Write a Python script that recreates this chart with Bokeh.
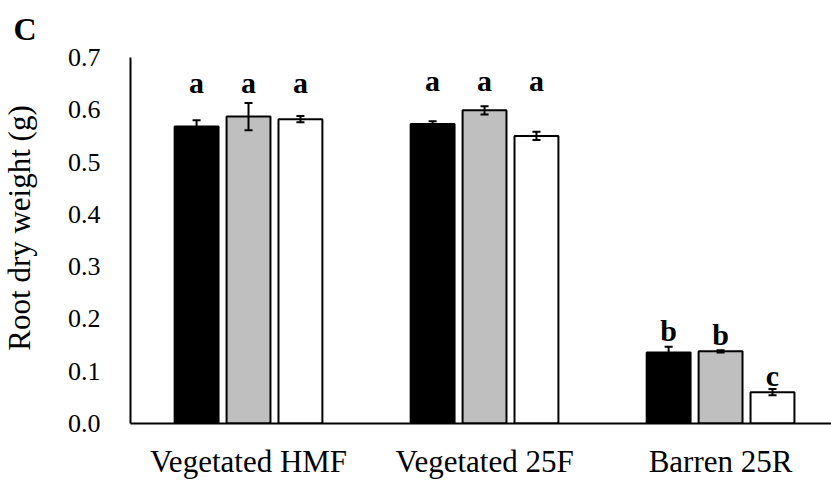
import math
from bokeh.plotting import figure
from bokeh.models import Range1d, FixedTicker, Label, Title, ColumnDataSource
from bokeh.embed import file_html
from bokeh.resources import INLINE

# Sites along the x axis
sites = ["Vegetated HMF", "Vegetated 25F", "Barren 25R"]

# Root dry weight (g), mean and standard error for the three treatments
treat1_mean = [0.568, 0.573, 0.136]
treat1_err = [0.012, 0.005, 0.011]
treat2_mean = [0.587, 0.599, 0.138]
treat2_err = [0.026, 0.008, 0.002]
treat3_mean = [0.582, 0.550, 0.060]
treat3_err = [0.006, 0.008, 0.006]

# Significance letters per site, per treatment
letters1 = ["a", "a", "b"]
letters2 = ["a", "a", "b"]
letters3 = ["a", "a", "c"]

y_ticks = [0.0, 0.1, 0.2, 0.3, 0.4, 0.5, 0.6, 0.7]

SERIF = "Liberation Serif"

p = figure(width=831, height=481, output_backend="svg", toolbar_location=None,
           x_range=Range1d(0, 2.97), y_range=Range1d(0, 0.7),
           min_border_left=130, min_border_right=0,
           min_border_top=57, min_border_bottom=56)
p.outline_line_color = None
p.xgrid.visible = False
p.ygrid.visible = False
p.background_fill_color = "white"
p.border_fill_color = "white"

bar_w = 0.186
offsets = [-0.22, 0.0, 0.22]
fills = ["black", "#bfbfbf", "white"]
means = [treat1_mean, treat2_mean, treat3_mean]
errs = [treat1_err, treat2_err, treat3_err]
letters = [letters1, letters2, letters3]

centers = [i + 0.5 for i in range(len(sites))]
cap = 0.017

for k in range(3):
    xs = [c + offsets[k] for c in centers]
    src = ColumnDataSource(dict(x=xs, top=means[k],
                                lo=[m - e for m, e in zip(means[k], errs[k])],
                                hi=[m + e for m, e in zip(means[k], errs[k])],
                                x0=[x - cap for x in xs], x1=[x + cap for x in xs]))
    p.vbar(x="x", top="top", bottom=0, width=bar_w, source=src,
           fill_color=fills[k], line_color="black", line_width=2)
    p.segment(x0="x", y0="lo", x1="x", y1="hi", source=src, line_color="black", line_width=2)
    p.segment(x0="x0", y0="hi", x1="x1", y1="hi", source=src, line_color="black", line_width=2)
    p.segment(x0="x0", y0="lo", x1="x1", y1="lo", source=src, line_color="black", line_width=2)

# Letter baselines: one shared row over each vegetated site,
# just above the error bar for the barren site
row_y = {0: 0.629, 1: 0.633}
letter_pad = {"b": 0.007, "c": 0.003}
for k in range(3):
    for i in range(len(sites)):
        if i in row_y:
            ly = row_y[i]
        else:
            ly = means[k][i] + errs[k][i] + letter_pad.get(letters[k][i], 0.007)
        p.add_layout(Label(x=centers[i] + offsets[k], y=ly, y_offset=12, text=letters[k][i],
                           text_font=SERIF, text_font_style="bold", text_font_size="30px",
                           text_align="center", text_baseline="alphabetic", text_color="black"))

# Axes
p.xaxis.ticker = FixedTicker(ticks=centers)
p.xaxis.major_label_overrides = {c: s for c, s in zip(centers, sites)}
p.xaxis.major_tick_line_color = None
p.xaxis.minor_tick_line_color = None
p.xaxis.major_tick_out = 0
p.xaxis.major_label_standoff = 20
p.xaxis.major_label_text_font = SERIF
p.xaxis.major_label_text_font_size = "31px"
p.xaxis.major_label_text_color = "black"
p.xaxis.axis_line_color = "black"
p.xaxis.axis_line_width = 2

p.yaxis.ticker = FixedTicker(ticks=y_ticks)
p.yaxis.major_label_overrides = {t: f"{t:.1f}" for t in y_ticks}
p.yaxis.major_tick_line_color = None
p.yaxis.minor_tick_line_color = None
p.yaxis.major_tick_out = 0
p.yaxis.major_label_standoff = 30
p.yaxis.major_label_text_font = SERIF
p.yaxis.major_label_text_font_size = "26px"
p.yaxis.major_label_text_color = "black"
p.yaxis.axis_line_color = "black"
p.yaxis.axis_line_width = 2

# Axis title in the left panel, panel tag above the plot
p.add_layout(Label(x=-10, y=0.374, x_units="screen", y_units="data",
                   text="Root dry weight (g)", angle=math.pi / 2,
                   text_font=SERIF, text_font_size="31px", text_color="black",
                   text_align="center", text_baseline="middle"), "left")
p.add_layout(Title(text="C", align="left", offset=-117, vertical_align="top", standoff=18,
                   text_font=SERIF, text_font_size="32px", text_font_style="bold",
                   text_color="black"), "above")

open("out.html", "w").write(file_html(p, INLINE))
